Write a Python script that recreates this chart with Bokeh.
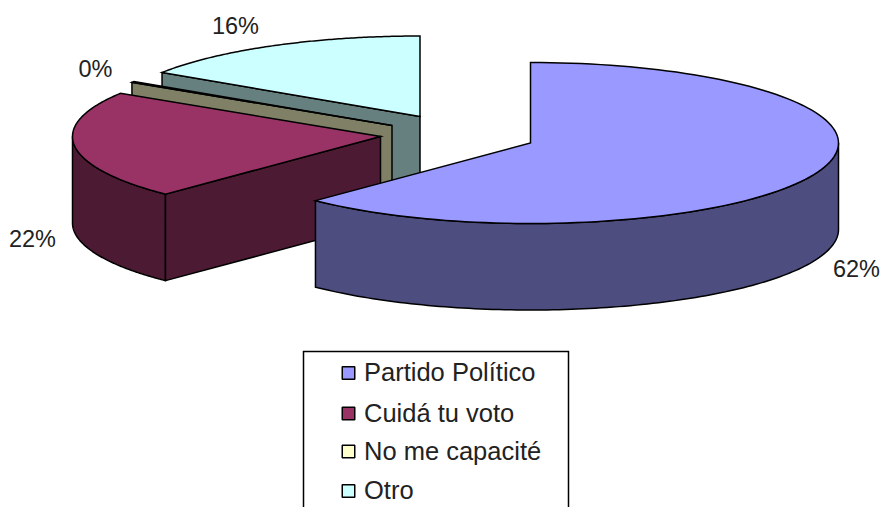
import numpy as np
from bokeh.plotting import figure
from bokeh.models import Range1d
from bokeh.core.properties import value
from bokeh.embed import file_html
from bokeh.resources import INLINE

categories = ["Partido Político", "Cuidá tu voto", "No me capacité", "Otro"]
shares = [62.3, 21.7, 0.2, 15.8]
pct_labels = ["62%", "22%", "0%", "16%"]
top_colors = ["#9999FF", "#993366", "#FFFFCC", "#CCFFFF"]
side_colors = ["#4D4D80", "#4D1A33", "#808066", "#668080"]

# pie geometry, in page pixels
apexes = [(530.0, 142.5), (380.0, 136.0), (391.5, 125.0), (419.5, 116.0)]
RX, RY, DEPTH = 308.0, 80.5, 86.5
label_xy = [(856, 268), (32, 238), (95, 68), (235, 25.5)]
LINE = 1.5
FONT = "Liberation Sans"

p = figure(width=883, height=507, output_backend="svg", toolbar_location=None,
           x_range=Range1d(0, 883), y_range=Range1d(507, 0),
           min_border=0, outline_line_color=None, background_fill_color="white",
           border_fill_color="white")
p.axis.visible = False
p.grid.visible = False


def arc(apex, a0, a1, n=120, dy=0.0):
    t = np.radians(np.linspace(a0, a1, n))
    return apex[0] + RX * np.sin(t), apex[1] - RY * np.cos(t) + dy


def poly(xs, ys, color):
    p.patch(list(xs), list(ys), fill_color=color, line_color="black",
            line_width=LINE, line_join="miter")


edges = np.cumsum([0.0] + shares) * 3.6
spans = list(zip(edges[:-1], edges[1:]))


def cut_face(i, angle):
    ax, ay = apexes[i]
    ex, ey = arc(apexes[i], angle, angle, 1)
    poly([ax, ex[0], ex[0], ax], [ay, ey[0], ey[0] + DEPTH, ay + DEPTH], side_colors[i])


def top(i):
    ax, ay = apexes[i]
    xs, ys = arc(apexes[i], *spans[i])
    poly(np.r_[ax, xs], np.r_[ay, ys], top_colors[i])


def rim(i, a0, a1):
    x0, y0 = arc(apexes[i], a0, a1)
    x1, y1 = arc(apexes[i], a0, a1, dy=DEPTH)
    poly(np.r_[x0, x1[::-1]], np.r_[y0, y1[::-1]], side_colors[i])


# back to front: Otro, No me capacité, Cuidá tu voto, Partido Político
cut_face(3, spans[3][0])
top(3)
cut_face(2, spans[2][0])
top(2)
rim(1, spans[1][0], 270.0)
cut_face(1, spans[1][0])
top(1)
rim(0, 90.0, spans[0][1])
top(0)

# percentage labels
p.text([q[0] for q in label_xy], [q[1] for q in label_xy], text=pct_labels,
       text_font=value(FONT), text_font_size="23.5px", text_color="#222222",
       text_align="center", text_baseline="middle")

# legend, cut by the bottom of the picture
p.line([303, 303, 568, 568], [520, 351, 351, 520], line_color="black", line_width=LINE,
       line_join="miter")
legend_y = [372.5, 413, 451, 490.5]
p.rect([348] * 4, legend_y, width=12.5, height=12.5, fill_color=top_colors,
       line_color="black", line_width=LINE)
p.text([363.5] * 4, [y - 1 for y in legend_y], text=categories, text_font=value(FONT),
       text_font_size="25.5px", text_color="#222222", text_align="left",
       text_baseline="middle")

open("out.html", "w").write(file_html(p, INLINE))
